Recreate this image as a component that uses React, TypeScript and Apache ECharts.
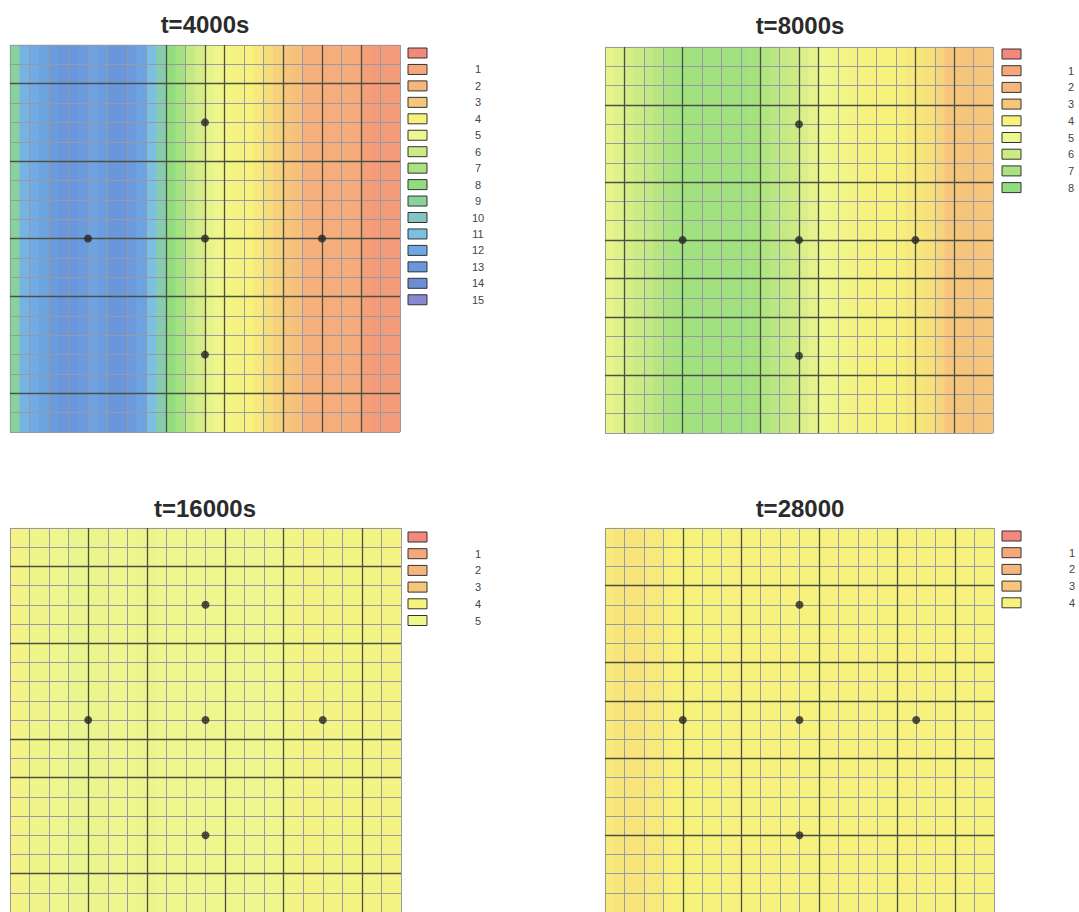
import { useEffect, useRef } from "react";
import * as echarts from "echarts";

// ---------------- data ----------------
const TITLES = ["t=4000s", "t=8000s", "t=16000s", "t=28000"];

// colour of each contour level (0 = hottest red ... 15 = purple)
const LEVEL_COLORS = [
  "#f3887b", "#f5a97a", "#f4b67c", "#f6c77b", "#f7f27b", "#eef68e",
  "#cdeb85", "#a9e37f", "#90dc7f", "#87d39b", "#85c4c3", "#7bbfe3",
  "#6fa6e4", "#6a97db", "#6d8dd4", "#8a88d0",
];

// number of legend boxes per panel
const LEGEND_COUNTS = [16, 9, 6, 5];

// level value per half-cell column (40 columns across)
const PROFILE_4000 = [
  9.0, 11.5, 11.8, 12.2, 12.8, 13.0, 13.0, 12.8, 12.2, 12.6,
  13.0, 13.0, 12.8, 12.2, 11.0, 9.5, 8, 7.2, 6.3, 5.8,
  5.2, 4.8, 4.4, 4.2, 4.0, 3.8, 3.5, 3.2, 2.8, 2.5,
  1.6, 1.5, 1.4, 1.4, 1.3, 1.2, 0.7, 0.6, 0.6, 0.6,
];
const PROFILE_8000 = [
  5.2, 5.5, 5.8, 6.0, 6.3, 6.6, 7.0, 7.2, 7.3, 7.3,
  7.3, 7.3, 7.3, 7.3, 7.3, 7.2, 6.8, 6.5, 6.2, 6.0,
  5.6, 5.3, 5.0, 4.8, 4.6, 4.4, 4.2, 4.1, 4.0, 4.0,
  3.9, 3.8, 3.7, 3.6, 3.3, 3.0, 2.9, 2.9, 2.9, 3.0,
];
const PROFILE_16000 = [
  4.5, 4.6, 4.7, 4.8, 5.0, 5.0, 5.1, 5.1, 5.1, 5.1,
  5.0, 5.0, 5.0, 5.1, 5.1, 5.0, 5.0, 5.0, 5.0, 5.0,
  5.0, 5.0, 5.0, 5.0, 5.0, 5.0, 4.9, 4.8, 4.6, 4.4,
  4.4, 4.4, 4.4, 4.4, 4.4, 4.4, 4.4, 4.4, 4.4, 4.4,
];
const PROFILE_28000 = [
  3.8, 3.7, 3.7, 3.7, 3.8, 3.8, 3.9, 4.0, 4.0, 4.0,
  4.0, 4.1, 4.1, 4.1, 4.1, 4.1, 4.1, 4.1, 4.1, 4.1,
  4.1, 4.1, 4.1, 4.1, 4.1, 4.1, 4.1, 4.1, 4.1, 4.1,
  4.1, 4.1, 4.1, 4.1, 4.1, 4.1, 4.1, 4.1, 4.1, 4.1,
];
const PROFILES = [PROFILE_4000, PROFILE_8000, PROFILE_16000, PROFILE_28000];

const ROW_COUNT = 20;
const NODE_COUNT = 20;

// well locations in grid-node coordinates [x, y]
const DOTS = [[4, 10], [10, 4], [10, 10], [10, 16], [16, 10]];

// darker grid lines per panel
const MAJOR_X = [
  [8, 10, 11, 14, 16, 18],
  [1, 4, 8, 10, 11, 16, 18],
  [4, 7, 11, 14, 18],
  [4, 7, 11, 15, 18],
];
const MAJOR_Y = [
  [2, 6, 10, 13, 18],
  [3, 7, 10, 12, 14, 17],
  [2, 6, 11, 13, 18],
  [3, 7, 9, 12, 16],
];

// ---------------- layout ----------------
const PANELS = [
  { left: 10, top: 45, width: 390, height: 387, titleX: 205, titleY: 12, legX: 408, legY: 48, legStep: 16.45, labX: 478 },
  { left: 605, top: 47, width: 388, height: 386, titleX: 800, titleY: 13, legX: 1002, legY: 49, legStep: 16.7, labX: 1071 },
  { left: 10, top: 528, width: 391, height: 387, titleX: 205, titleY: 496, legX: 408, legY: 532, legStep: 16.7, labX: 478 },
  { left: 605, top: 528, width: 389, height: 387, titleX: 800, titleY: 496, legX: 1002, legY: 531, legStep: 16.7, labX: 1072 },
];

const LIGHT_LINE = "#979aa6";
const DARK_LINE = "#4c4f47";

export default function App() {
  const ref = useRef<HTMLDivElement>(null);

  useEffect(() => {
    if (!ref.current) return;
    const chart = echarts.init(ref.current, undefined, { renderer: "svg" });

    const xCats = PROFILE_4000.map((_, i) => String(i));
    const yCats = Array.from({ length: ROW_COUNT }, (_, i) => String(i));

    const grid: any[] = [];
    const xAxis: any[] = [];
    const yAxis: any[] = [];
    const series: any[] = [];
    const title: any[] = [];
    const graphic: any[] = [];
    const heatIdx: number[] = [];

    PANELS.forEach((p, k) => {
      grid.push({ left: p.left, top: p.top, width: p.width, height: p.height, containLabel: false });
      // category axes for the field
      xAxis.push({ type: "category", gridIndex: k, data: xCats, show: false });
      yAxis.push({ type: "category", gridIndex: k, data: yCats, show: false });
      // value axes for grid lines and wells
      xAxis.push({
        type: "value", gridIndex: k, min: 0, max: NODE_COUNT, interval: 1, z: 5,
        axisLine: { show: false }, axisTick: { show: false }, axisLabel: { show: false },
        splitLine: { show: true, lineStyle: { color: LIGHT_LINE, width: 1 } },
      });
      yAxis.push({
        type: "value", gridIndex: k, min: 0, max: NODE_COUNT, interval: 1, inverse: true, z: 5,
        axisLine: { show: false }, axisTick: { show: false }, axisLabel: { show: false },
        splitLine: { show: true, lineStyle: { color: LIGHT_LINE, width: 1 } },
      });

      const prof = PROFILES[k];
      const data: number[][] = [];
      for (let c = 0; c < prof.length; c++) {
        for (let r = 0; r < ROW_COUNT; r++) data.push([c, r, prof[c]]);
      }
      heatIdx.push(series.length);
      series.push({
        type: "heatmap",
        xAxisIndex: 2 * k,
        yAxisIndex: 2 * k,
        data,
        z: 1,
        silent: true,
        itemStyle: { borderWidth: 0 },
      });
      series.push({
        type: "scatter",
        xAxisIndex: 2 * k + 1,
        yAxisIndex: 2 * k + 1,
        data: DOTS,
        symbol: "circle",
        symbolSize: 8,
        z: 10,
        silent: true,
        itemStyle: { color: "#262626" },
        markLine: {
          silent: true,
          symbol: ["none", "none"],
          label: { show: false },
          lineStyle: { color: DARK_LINE, width: 1.3, type: "solid" },
          data: [
            ...MAJOR_X[k].map((v) => ({ xAxis: v })),
            ...MAJOR_Y[k].map((v) => ({ yAxis: v })),
          ],
        },
      });

      title.push({
        text: TITLES[k],
        left: p.titleX,
        top: p.titleY,
        textAlign: "center",
        padding: 0,
        textStyle: { fontSize: 24, fontWeight: "bold", fontFamily: "Liberation Sans, Arial, sans-serif", color: "#2b2b2b" },
      });

      for (let i = 0; i < LEGEND_COUNTS[k]; i++) {
        graphic.push({
          type: "rect",
          shape: { x: p.legX, y: p.legY + i * p.legStep, width: 19, height: 10 },
          style: { fill: LEVEL_COLORS[i], stroke: "#333", lineWidth: 1 },
          silent: true,
        });
        if (i > 0) {
          graphic.push({
            type: "text",
            style: {
              text: String(i),
              x: p.labX,
              y: p.legY + i * p.legStep + 5,
              fill: "#444444",
              font: "11px 'Liberation Sans', Arial, sans-serif",
              textAlign: "center",
              textVerticalAlign: "middle",
            },
            silent: true,
          });
        }
      }
    });

    chart.setOption({
      animation: false,
      backgroundColor: "#ffffff",
      title,
      grid,
      xAxis,
      yAxis,
      visualMap: {
        type: "continuous",
        show: false,
        min: 0,
        max: LEVEL_COLORS.length - 1,
        dimension: 2,
        seriesIndex: heatIdx,
        inRange: { color: LEVEL_COLORS },
      },
      series,
      graphic,
    });

    return () => chart.dispose();
  }, []);

  return (
    <div
      ref={ref}
      style={{ position: "absolute", left: 0, top: 0, width: 1079, height: 912 }}
    />
  );
}
